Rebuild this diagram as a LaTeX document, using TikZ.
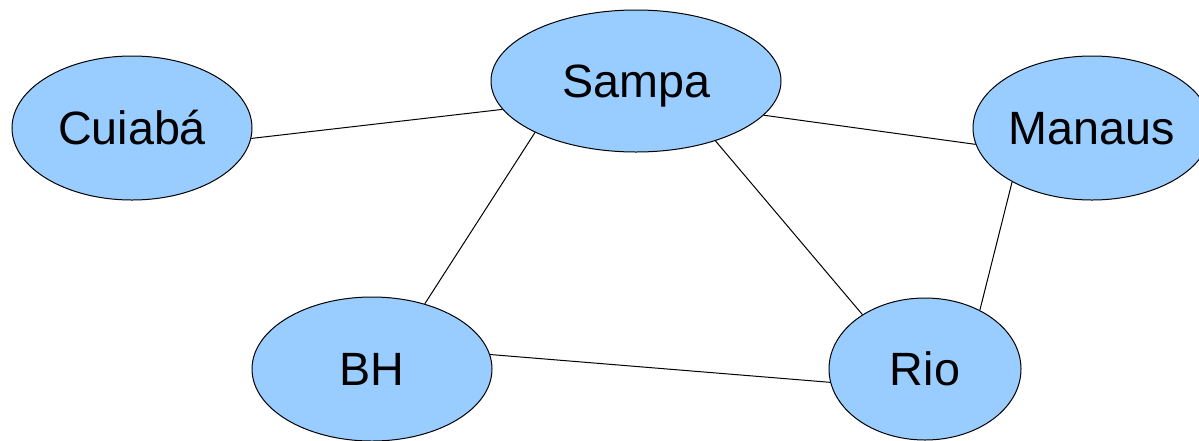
\documentclass[tikz,border=0pt]{standalone}
\usepackage{fontspec}
\setmainfont{Liberation Sans}
\usepackage{tikz}
\usetikzlibrary{shapes.geometric,positioning}
\definecolor{cityblue}{HTML}{99CCFF}
\tikzstyle{city} = [ellipse, draw=black, line width=1pt, fill=cityblue, inner sep=0pt, font=\fontsize{46.7}{56}\selectfont, text height=33.4pt, text depth=0pt]
\tikzstyle{road} = [line width=1pt, -]

\begin{document}
\begin{tikzpicture}[x=1pt,y=-1pt]
		\useasboundingbox (0,0) rectangle (1199,440);

		\node[city, minimum width=240pt, minimum height=144pt] (cuiaba) at (132,128) {Cuiab\'a};
		\node[city, minimum width=290pt, minimum height=142pt] (sampa) at (636,81) {Sampa};
		\node[city, minimum width=238pt, minimum height=144pt] (manaus) at (1092,128) {Manaus};
		\node[city, minimum width=240pt, minimum height=144pt] (bh) at (372,369) {BH};
		\node[city, minimum width=192pt, minimum height=142pt] (rio) at (925,369) {Rio};

		\draw[road] (cuiaba.-5.7) -- (sampa.192);
		\draw[road] (sampa.-15.4) -- (manaus.188.7);
		\draw[road] (sampa.207.7) -- (bh.51.8);
		\draw[road] (sampa.-37.2) -- (rio.139.8);
		\draw[road] (manaus.214.8) -- (rio.47);
		\draw[road] (bh.7.7) -- (rio.188.5);
	\end{tikzpicture}
\end{document}
